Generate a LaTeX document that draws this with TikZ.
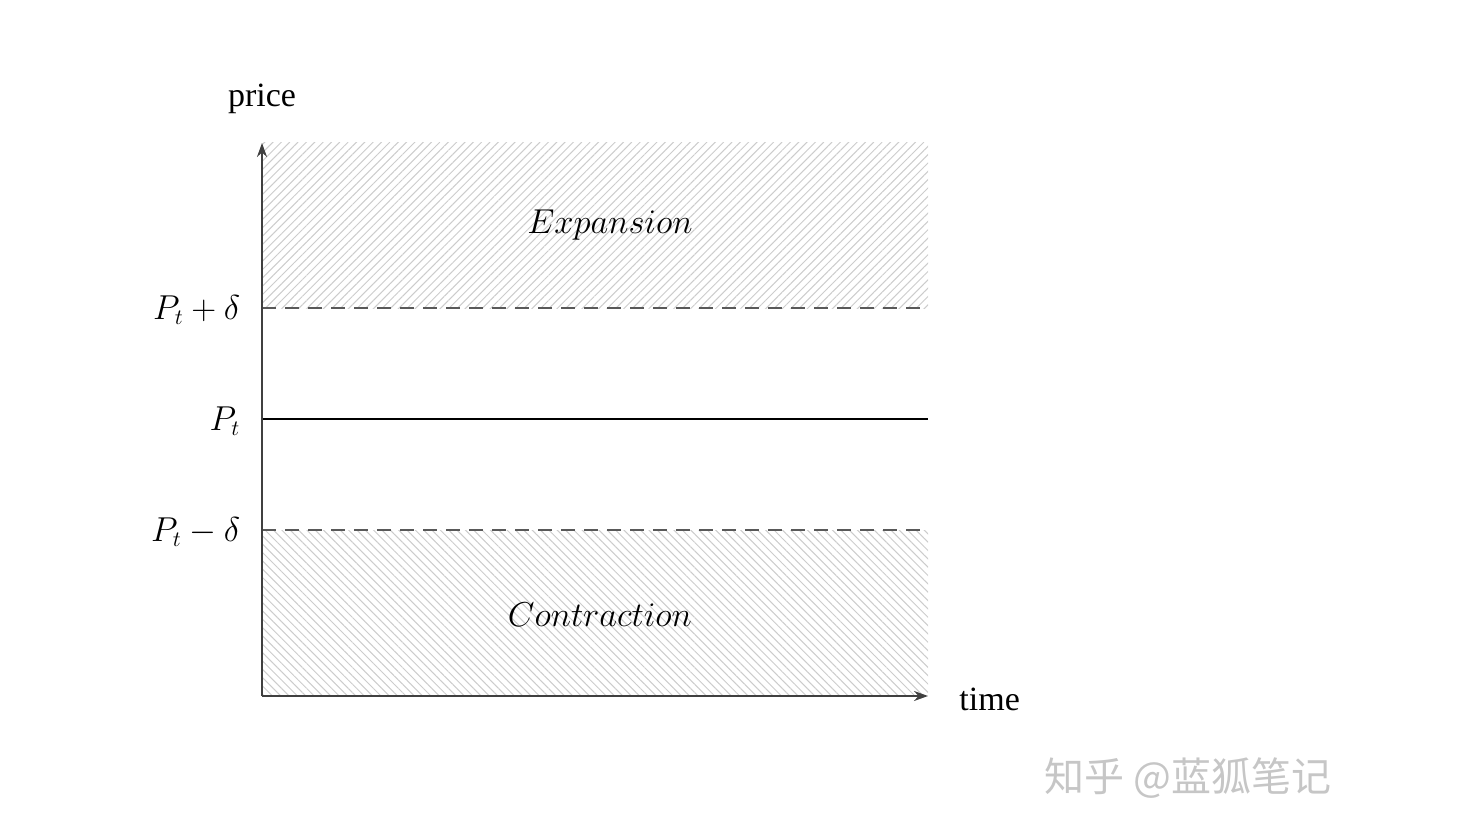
\documentclass[tikz,border=0pt]{standalone}
\usepackage{fontspec}
\setmainfont{Liberation Serif}
\newfontfamily\cjkfont{Noto Sans CJK SC}
\usetikzlibrary{arrows.meta,patterns.meta}

\tikzset{every picture/.style={line width=0.75pt}}
\tikzset{
  hatchup/.style={pattern={Lines[angle=45,distance=2.95pt,line width=0.5pt]},pattern color=gray!40},
  hatchdown/.style={pattern={Lines[angle=-45,distance=2.95pt,line width=0.5pt]},pattern color=gray!40},
  bandline/.style={draw=black!65,line width=0.9pt,dash pattern=on 7pt off 4.5pt},
  axislabel/.style={font=\fontsize{17}{20}\selectfont},
  levellabel/.style={font=\fontsize{16}{19}\selectfont,anchor=east,inner sep=0pt},
  regionlabel/.style={font=\fontsize{17}{20}\selectfont}
}

\begin{document}
\begin{tikzpicture}[x=0.5pt,y=0.5pt,yscale=-1,xscale=1]
        \useasboundingbox (0,0) rectangle (1480,824);

        %Coordinates
        \coordinate (orig) at (262,696);
        \coordinate (ytop) at (262,143);
        \coordinate (xend) at (928,696);
        \coordinate (upL) at (262,308);
        \coordinate (upR) at (928,308);
        \coordinate (midL) at (262,419);
        \coordinate (midR) at (928,419);
        \coordinate (loL) at (262,530);
        \coordinate (loR) at (928,530);

        %Shape: Hatched regions
        \path [hatchup] (ytop) rectangle (upR);
        \path [hatchdown] (loL) rectangle (xend);

        %Straight Lines: levels
        \draw [bandline] (upL) -- (upR);
        \draw [line width=1.4pt] (midL) -- (midR);
        \draw [bandline] (loL) -- (loR);

        %Axes
        \draw [black!75,line width=1pt,-{Stealth[length=7pt,width=5pt]}] (orig) -- (ytop);
        \draw [black!75,line width=1pt,-{Stealth[length=7pt,width=5pt]}] (orig) -- (xend);

        %Labels
        \node [axislabel] (price) at (262,99) {price};
        \node [axislabel,anchor=west] (time) at (952,699) {time};
        \node [levellabel] (lup) at (241,310) {$P_t+\delta$};
        \node [levellabel] (lmid) at (241,421) {$P_t$};
        \node [levellabel] (llo) at (241,532) {$P_t-\delta$};
        \node [regionlabel] (expansion) at (610,225) {$Expansion$};
        \node [regionlabel] (contraction) at (600,615) {$Contraction$};

        %Watermark
        \node [font=\cjkfont\fontsize{20}{24}\selectfont,text=gray!45] (mark) at (1188,778) {知乎 @蓝狐笔记};

\end{tikzpicture}
\end{document}
